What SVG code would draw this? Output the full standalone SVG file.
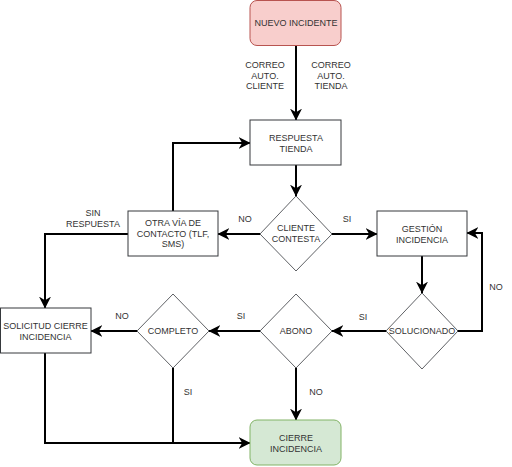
<svg xmlns="http://www.w3.org/2000/svg" width="512" height="467" viewBox="0 0 512 467">
<style>
.box{fill:#ffffff;stroke:#36393d;stroke-width:1}
.dia{fill:#ffffff;stroke:#36393d;stroke-width:0.8}
.red{fill:#f8cecc;stroke:#b85450;stroke-width:1}
.green{fill:#d5e8d4;stroke:#82b366;stroke-width:1}
.t{font-family:"Liberation Sans",Arial,sans-serif;font-size:9px;fill:#333333;text-anchor:middle}
.c{fill:none;stroke:#000000;stroke-width:2;marker-end:url(#arr)}
.cn{fill:none;stroke:#000000;stroke-width:2}
</style>
<defs>
<marker id="arr" markerUnits="userSpaceOnUse" markerWidth="12" markerHeight="12" viewBox="0 0 10 10" refX="9.5" refY="5" orient="auto">
<path d="M0,0 L10,5 L0,10 L3,5 z" fill="#000000"/>
</marker>
</defs>
<rect width="512" height="467" fill="#ffffff"/>
<g id="connectors">
<path class="c" d="M296,45 L296,120"/>
<path class="c" d="M296,165 L296,196"/>
<path class="c" d="M173,211 L173,143 L250,143"/>
<path class="c" d="M260,234 L218,234"/>
<path class="c" d="M332,234 L377,234"/>
<path class="c" d="M128,234 L45,234 L45,308"/>
<path class="c" d="M422,256 L422,293"/>
<path class="c" d="M457,331 L482,331 L482,233 L467,233"/>
<path class="c" d="M386,331 L332,331"/>
<path class="c" d="M260,331 L209,331"/>
<path class="c" d="M137,331 L91,331"/>
<path class="c" d="M296,368 L296,420"/>
<path class="cn" d="M173,368 L173,443"/>
<path class="c" d="M45,353 L45,443 L250,443"/>
<text class="t" x="265" y="68">CORREO</text>
<text class="t" x="265" y="79">AUTO.</text>
<text class="t" x="265" y="89">CLIENTE</text>
<text class="t" x="331" y="68">CORREO</text>
<text class="t" x="331" y="79">AUTO.</text>
<text class="t" x="331" y="89">TIENDA</text>
<text class="t" x="245" y="222">NO</text>
<text class="t" x="347" y="222">SI</text>
<text class="t" x="93" y="216">SIN</text>
<text class="t" x="93" y="227">RESPUESTA</text>
<text class="t" x="496" y="290">NO</text>
<text class="t" x="363" y="320">SI</text>
<text class="t" x="241" y="319">SI</text>
<text class="t" x="122" y="319">NO</text>
<text class="t" x="316" y="395">NO</text>
<text class="t" x="188" y="395">SI</text>
</g>
<g id="nuevo">
<rect class="red" x="250" y="0.5" width="91" height="45" rx="7"/>
<text class="t" x="296" y="25.5">NUEVO INCIDENTE</text>
</g>
<g id="respuesta">
<rect class="box" x="250" y="120" width="91" height="45"/>
<text class="t" x="296" y="141">RESPUESTA</text>
<text class="t" x="296" y="151.5">TIENDA</text>
</g>
<g id="otra">
<rect class="box" x="128" y="211" width="90" height="45"/>
<text class="t" x="173" y="226">OTRA VÍA DE</text>
<text class="t" x="173" y="237">CONTACTO (TLF,</text>
<text class="t" x="173" y="247">SMS)</text>
</g>
<g id="cliente">
<polygon class="dia" points="296,196 332,234 296,271 260,234"/>
<text class="t" x="296" y="231">CLIENTE</text>
<text class="t" x="296" y="242">CONTESTA</text>
</g>
<g id="gestion">
<rect class="box" x="377" y="211" width="90" height="45"/>
<text class="t" x="422" y="232">GESTIÓN</text>
<text class="t" x="422" y="242.5">INCIDENCIA</text>
</g>
<g id="solucionado">
<polygon class="dia" points="422,293 458,331 422,369 386,331"/>
<text class="t" x="422" y="334">SOLUCIONADO</text>
</g>
<g id="abono">
<polygon class="dia" points="296,294 332,331 296,368 260,331"/>
<text class="t" x="296" y="334">ABONO</text>
</g>
<g id="completo">
<polygon class="dia" points="173,294 209,331 173,368 137,331"/>
<text class="t" x="173" y="334">COMPLETO</text>
</g>
<g id="solicitud">
<rect class="box" x="0.5" y="308" width="90.5" height="45"/>
<text class="t" x="45.5" y="329">SOLICITUD CIERRE</text>
<text class="t" x="45.5" y="340">INCIDENCIA</text>
</g>
<g id="cierre">
<rect class="green" x="250" y="420" width="91" height="45" rx="7"/>
<text class="t" x="296" y="441">CIERRE</text>
<text class="t" x="296" y="452">INCIDENCIA</text>
</g>
</svg>
